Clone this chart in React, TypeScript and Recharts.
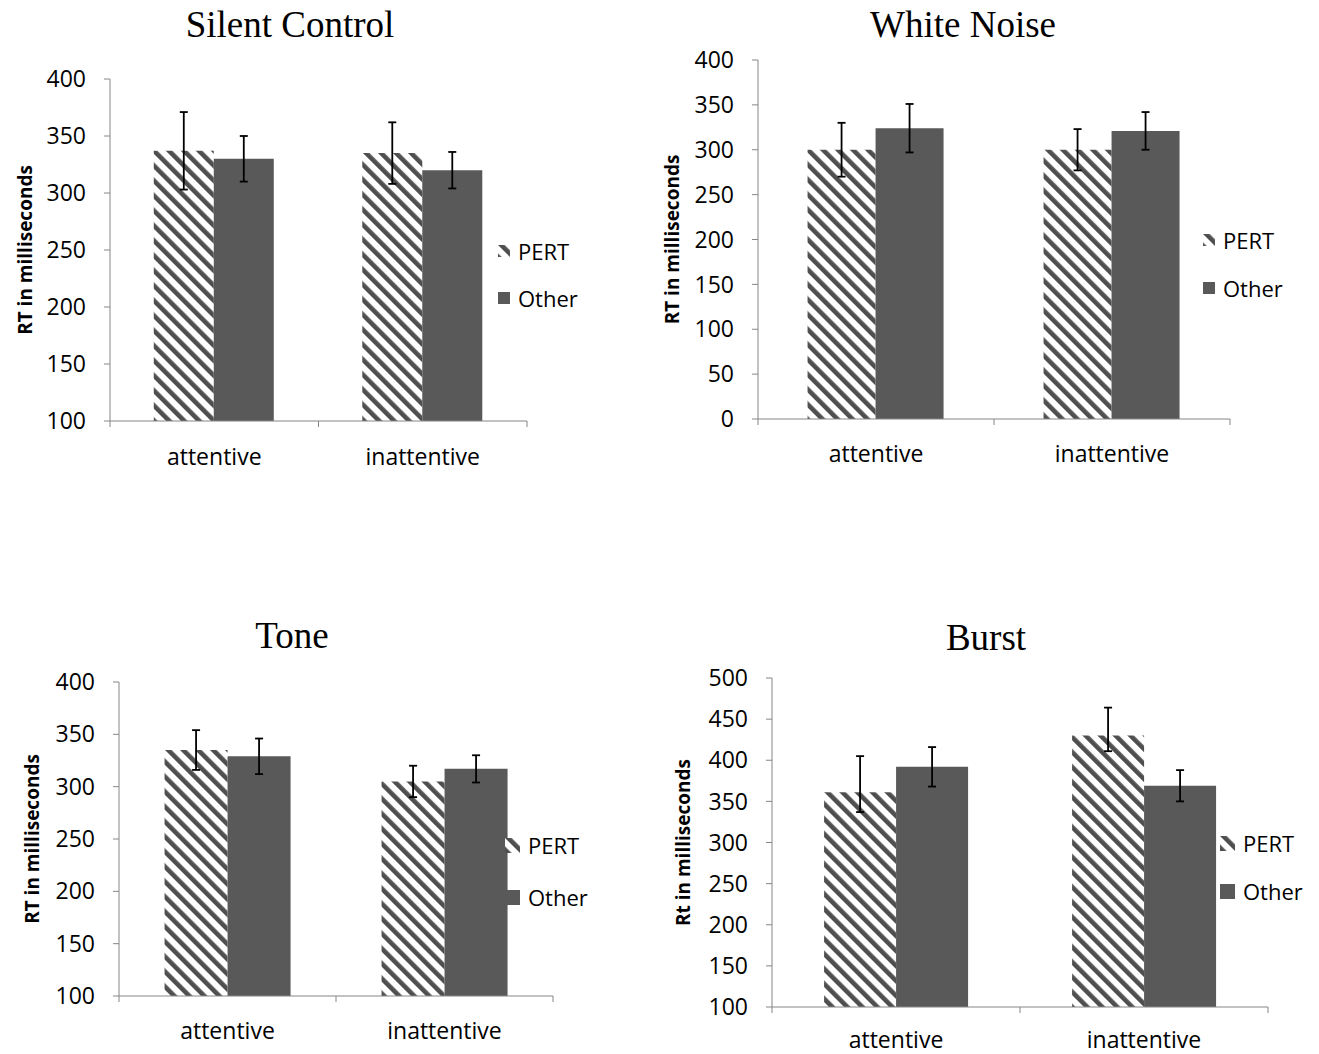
import React from "react";
import {
  BarChart,
  Bar,
  XAxis,
  YAxis,
  ErrorBar,
  Legend,
  Label,
} from "recharts";

const categories = ["attentive", "inattentive"];
const seriesNames = ["PERT", "Other"];

// Silent Control
const silentPert = [337, 335];
const silentPertErr = [34, 27];
const silentOther = [330, 320];
const silentOtherErr = [20, 16];

// White Noise
const whitePert = [300, 300];
const whitePertErr = [30, 23];
const whiteOther = [324, 321];
const whiteOtherErr = [27, 21];

// Tone
const tonePert = [335, 305];
const tonePertErr = [19, 15];
const toneOther = [329, 317];
const toneOtherErr = [17, 13];

// Burst (PERT bars have uneven error bars)
const burstPert = [361, 430];
const burstPertErrLow = [24, 19];
const burstPertErrHigh = [44, 34];
const burstOther = [392, 369];
const burstOtherErr = [24, 19];

const ticks100to400 = [100, 150, 200, 250, 300, 350, 400];
const ticks0to400 = [0, 50, 100, 150, 200, 250, 300, 350, 400];
const ticks100to500 = [100, 150, 200, 250, 300, 350, 400, 450, 500];

const axisGray = "#868686";
const otherFill = "#595959";
const stripeFill = "url(#pertStripes)";
const sansFont = '"Open Sans", sans-serif';

const buildRows = (
  pert: number[],
  pertLow: number[],
  pertHigh: number[],
  other: number[],
  otherErr: number[]
) =>
  categories.map((category, i) => ({
    category,
    pert: pert[i],
    pertErr: [pertLow[i], pertHigh[i]],
    other: other[i],
    otherErr: otherErr[i],
  }));

const makeCategoryTick = (catWidth: number, labelOffset: number) => (props: any) => {
  const { x, y, payload } = props;
  const isLast = payload.value === categories[categories.length - 1];
  return (
    <g>
      <line x1={x - catWidth / 2} y1={y - 6} x2={x - catWidth / 2} y2={y} stroke={axisGray} />
      {isLast && (
        <line x1={x + catWidth / 2} y1={y - 6} x2={x + catWidth / 2} y2={y} stroke={axisGray} />
      )}
      <text
        x={x}
        y={y + labelOffset}
        textAnchor="middle"
        dominantBaseline="central"
        fontSize={23}
        fill="#000"
      >
        {payload.value}
      </text>
    </g>
  );
};

interface PanelProps {
  title: string;
  yTitle: string;
  rows: any[];
  ticks: number[];
  left: number;
  top: number;
  width: number;
  height: number;
  margin: { top: number; right: number; bottom: number; left: number };
  yAxisWidth: number;
  xAxisHeight: number;
  yLabelX: number;
  labelOffset: number;
  titleX: number;
  titleY: number;
  legendLeft: number;
  legendTop: number;
  legendRow: number;
  iconSize: number;
}

const Panel: React.FC<PanelProps> = (p) => {
  const plotW = p.width - p.margin.left - p.margin.right - p.yAxisWidth;
  const catWidth = plotW / categories.length;

  const renderLegend = (props: any) => {
    const items = [...(props.payload || [])].sort(
      (a: any, b: any) => seriesNames.indexOf(a.value) - seriesNames.indexOf(b.value)
    );
    return (
      <div style={{ fontFamily: sansFont }}>
        {items.map((entry: any, i: number) => (
          <div
            key={i}
            style={{ display: "flex", alignItems: "center", height: p.legendRow }}
          >
            <svg width={p.iconSize} height={p.iconSize}>
              <rect width={p.iconSize} height={p.iconSize} fill={entry.color} />
            </svg>
            <span style={{ marginLeft: 8, fontSize: 22, color: "#000" }}>{entry.value}</span>
          </div>
        ))}
      </div>
    );
  };

  return (
    <>
      <div
        style={{
          position: "absolute",
          left: p.titleX,
          top: p.titleY,
          transform: "translate(-50%, -50%)",
          fontFamily: '"Liberation Serif", serif',
          fontSize: 37,
          whiteSpace: "nowrap",
          color: "#000",
        }}
      >
        {p.title}
      </div>
      <div style={{ position: "absolute", left: p.left, top: p.top }}>
        <BarChart
          width={p.width}
          height={p.height}
          data={p.rows}
          margin={p.margin}
          barCategoryGap="21%"
          barGap={0}
          style={{ fontFamily: sansFont }}
        >
          <XAxis
            dataKey="category"
            height={p.xAxisHeight}
            axisLine={{ stroke: axisGray }}
            tickLine={false}
            tickSize={6}
            tickMargin={0}
            tick={makeCategoryTick(catWidth, p.labelOffset)}
            interval={0}
          />
          <YAxis
            width={p.yAxisWidth}
            domain={[p.ticks[0], p.ticks[p.ticks.length - 1]]}
            ticks={p.ticks}
            allowDataOverflow
            axisLine={{ stroke: axisGray }}
            tickLine={{ stroke: axisGray }}
            tickSize={6}
            tickMargin={18}
            tick={{ fontSize: 23, fill: "#000" }}
          >
            <Label
              content={(props: any) => {
                const vb = props.viewBox || {};
                const cy = vb.y + vb.height / 2;
                return (
                  <text
                    x={p.yLabelX}
                    y={cy}
                    transform={`rotate(-90, ${p.yLabelX}, ${cy})`}
                    textAnchor="middle"
                    dominantBaseline="central"
                    fontSize={19}
                    fontWeight="bold"
                    fill="#000"
                  >
                    {p.yTitle}
                  </text>
                );
              }}
            />
          </YAxis>
          <Legend
            layout="vertical"
            align="center"
            verticalAlign="middle"
            content={renderLegend}
            wrapperStyle={{ left: p.legendLeft, top: p.legendTop, width: 120 }}
          />
          <Bar dataKey="pert" name={seriesNames[0]} fill={stripeFill} isAnimationActive={false}>
            <ErrorBar dataKey="pertErr" width={4} stroke="#000" strokeWidth={1.8} />
          </Bar>
          <Bar dataKey="other" name={seriesNames[1]} fill={otherFill} isAnimationActive={false}>
            <ErrorBar dataKey="otherErr" width={4} stroke="#000" strokeWidth={1.8} />
          </Bar>
        </BarChart>
      </div>
    </>
  );
};

const App: React.FC = () => {
  const silentRows = buildRows(silentPert, silentPertErr, silentPertErr, silentOther, silentOtherErr);
  const whiteRows = buildRows(whitePert, whitePertErr, whitePertErr, whiteOther, whiteOtherErr);
  const toneRows = buildRows(tonePert, tonePertErr, tonePertErr, toneOther, toneOtherErr);
  const burstRows = buildRows(burstPert, burstPertErrLow, burstPertErrHigh, burstOther, burstOtherErr);

  return (
    <div
      style={{
        position: "absolute",
        left: 0,
        top: 0,
        width: 1319,
        height: 1054,
        background: "#fff",
        overflow: "hidden",
      }}
    >
      <svg width={0} height={0} style={{ position: "absolute" }}>
        <defs>
          <pattern
            id="pertStripes"
            patternUnits="userSpaceOnUse"
            width={10.6}
            height={10.6}
            patternTransform="rotate(-45)"
          >
            <rect x={0} y={0} width={10.6} height={10.6} fill="#fff" />
            <rect x={0} y={0} width={4.6} height={10.6} fill="#4f4f4f" />
          </pattern>
        </defs>
      </svg>

      <Panel
        title="Silent Control"
        yTitle="RT in milliseconds"
        rows={silentRows}
        ticks={ticks100to400}
        left={0}
        top={60}
        width={560}
        height={420}
        margin={{ top: 19, right: 33, bottom: 9, left: 0 }}
        yAxisWidth={110}
        xAxisHeight={50}
        yLabelX={25}
        labelOffset={29}
        titleX={290}
        titleY={24}
        legendLeft={498}
        legendTop={167}
        legendRow={47}
        iconSize={12}
      />
      <Panel
        title="White Noise"
        yTitle="RT in milliseconds"
        rows={whiteRows}
        ticks={ticks0to400}
        left={650}
        top={40}
        width={620}
        height={430}
        margin={{ top: 20, right: 40, bottom: 6, left: 0 }}
        yAxisWidth={108}
        xAxisHeight={45}
        yLabelX={22}
        labelOffset={28}
        titleX={963}
        titleY={24}
        legendLeft={553}
        legendTop={176}
        legendRow={48}
        iconSize={12}
      />
      <Panel
        title="Tone"
        yTitle="RT in milliseconds"
        rows={toneRows}
        ticks={ticks100to400}
        left={0}
        top={660}
        width={600}
        height={390}
        margin={{ top: 22, right: 47, bottom: 4, left: 0 }}
        yAxisWidth={119}
        xAxisHeight={50}
        yLabelX={32}
        labelOffset={28}
        titleX={292}
        titleY={635}
        legendLeft={505}
        legendTop={159}
        legendRow={52}
        iconSize={15}
      />
      <Panel
        title="Burst"
        yTitle="Rt in milliseconds"
        rows={burstRows}
        ticks={ticks100to500}
        left={660}
        top={658}
        width={640}
        height={396}
        margin={{ top: 20, right: 32, bottom: 2, left: 0 }}
        yAxisWidth={112}
        xAxisHeight={45}
        yLabelX={23}
        labelOffset={26}
        titleX={986}
        titleY={637}
        legendLeft={560}
        legendTop={161}
        legendRow={48}
        iconSize={15}
      />
    </div>
  );
};

export default App;
